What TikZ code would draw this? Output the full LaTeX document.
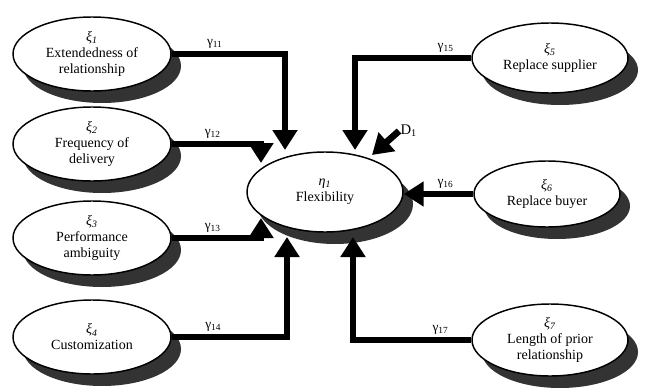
\documentclass[tikz,border=0pt]{standalone}
\usepackage{fontspec}
\setmainfont{Liberation Serif}
\usetikzlibrary{arrows.meta,positioning,shapes,shadows}
\definecolor{shadowgray}{HTML}{333333}

\begin{document}
\begin{tikzpicture}[->,>={Triangle[length=15pt,width=18pt]}]
\tikzstyle{factor}=[shape=ellipse,draw,line width=1.1pt,fill=white,text=black,align=center,inner sep=0pt,
  font=\fontsize{10.5}{12}\selectfont,minimum width=118.5pt,minimum height=55.5pt,
  drop shadow={shadow xshift=7.5pt,shadow yshift=-9pt,opacity=1,fill=shadowgray}]
\tikzstyle{link}=[line width=5pt]
\tikzstyle{coef}=[font=\fontsize{10}{12}\selectfont,inner sep=2pt,above]

\useasboundingbox (0,0) rectangle (484.5pt,-291.75pt);

% exogenous factors, left side
\node[factor]		(xi1) at (69pt,-40.5pt)                 {\textit{ξ}\textsubscript{\textit{1}}\\Extendedness of\\relationship};
\node[factor]		(xi2) [below of=xi1,node distance=67.5pt] {\textit{ξ}\textsubscript{\textit{2}}\\Frequency of\\delivery};
\node[factor]		(xi3) [below of=xi2,node distance=70.5pt] {\textit{ξ}\textsubscript{\textit{3}}\\Performance\\ambiguity};
\node[factor]		(xi4) [below of=xi3,node distance=74.25pt] {\textit{ξ}\textsubscript{\textit{4}}\\Customization};

% endogenous factor
\node[factor,minimum width=117pt,minimum height=60pt] (eta) at (243.75pt,-144pt) {\textit{η}\textsubscript{\textit{1}}\\Flexibility};

% exogenous factors, right side
\node[factor,minimum width=117pt,minimum height=52.5pt] (xi5) at (412.5pt,-43.5pt) {\textit{ξ}\textsubscript{\textit{5}}\\Replace supplier};
\node[factor,minimum width=109.5pt,minimum height=49.5pt] (xi6) [below of=xi5,node distance=102pt,xshift=-2.25pt] {\textit{ξ}\textsubscript{\textit{6}}\\Replace buyer};
\node[factor,minimum width=117pt,minimum height=54pt] (xi7) [below of=xi6,node distance=109.5pt,xshift=2.25pt] {\textit{ξ}\textsubscript{\textit{7}}\\Length of prior\\relationship};

% disturbance
\node[inner sep=1pt,anchor=west,font=\fontsize{11}{13}\selectfont] (d1) at ([xshift=55.5pt,yshift=45.75pt]eta.center) {D\textsubscript{1}};

\draw[link] (xi1.east) -| node[coef,pos=0.19] {γ\textsubscript{11}} ([xshift=-30pt,yshift=31.5pt]eta.center);
\draw[link] (xi2.east) -| node[coef,pos=0.23] {γ\textsubscript{12}} ([xshift=-48pt,yshift=21.75pt]eta.center);
\draw[link] (xi3.east) -| node[coef,pos=0.23] {γ\textsubscript{13}} ([xshift=-48pt,yshift=-19.5pt]eta.center);
\draw[link] (xi4.east) -| node[coef,pos=0.18] {γ\textsubscript{14}} ([xshift=-28.5pt,yshift=-33.75pt]eta.center);
\draw[link] (xi5.west) -| node[coef,pos=0.11] {γ\textsubscript{15}} ([xshift=22.5pt,yshift=31.5pt]eta.center);
\draw[link] (xi6.west) -- node[coef,pos=0.4] {γ\textsubscript{16}} (xi6.west -| eta.east);
\draw[link] (xi7.west) -| node[coef,pos=0.13] {γ\textsubscript{17}} ([xshift=21pt,yshift=-33.75pt]eta.center);
\draw[link] (d1.west) -- ([xshift=35.25pt,yshift=27.75pt]eta.center);
\end{tikzpicture}
\end{document}
